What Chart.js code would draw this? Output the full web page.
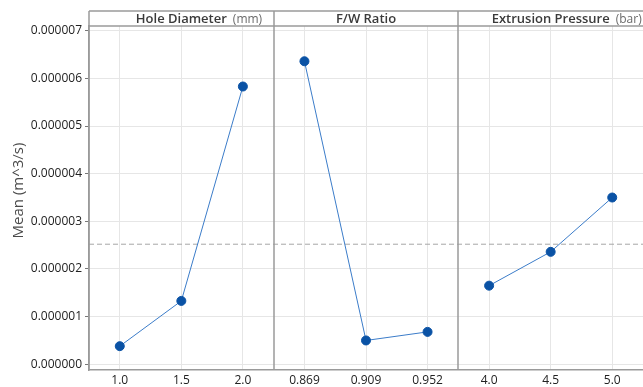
<!DOCTYPE html>
<html>
<head>
<meta charset="utf-8">
<script src="https://cdn.jsdelivr.net/npm/chart.js@4"></script>
<style>
  html, body { margin: 0; padding: 0; background: #fff; }
  #wrap { width: 643px; height: 387px; }
</style>
</head>
<body>
<div id="wrap"><canvas id="mainEffects"></canvas></div>
<script>
// factor levels (tick labels)
const holeDiameterLevels = ['1.0', '1.5', '2.0'];
const fwRatioLevels = ['0.869', '0.909', '0.952'];
const pressureLevels = ['4.0', '4.5', '5.0'];

// means (m^3/s)
const holeDiameterMeans = [0.00000038, 0.00000133, 0.00000583];
const fwRatioMeans = [0.00000636, 0.00000050, 0.00000068];
const pressureMeans = [0.00000165, 0.00000236, 0.00000350];

const grandMean = 0.00000252;

const panelNames = ['Hole Diameter', 'F/W Ratio', 'Extrusion Pressure'];
const panelUnits = ['(mm)', '', '(bar)'];

const yTicks = [0, 0.000001, 0.000002, 0.000003, 0.000004, 0.000005, 0.000006, 0.000007];

const FONT = "'Open Sans', 'Noto Sans', sans-serif";
const panels = [
  { levels: holeDiameterLevels, means: holeDiameterMeans },
  { levels: fwRatioLevels, means: fwRatioMeans },
  { levels: pressureLevels, means: pressureMeans }
];

// x position for level i of panel p (3 slots per panel)
function slot(p, i) { return p * 3 + i + 0.5; }

const tickLabels = {};
panels.forEach(function (panel, p) {
  panel.levels.forEach(function (lvl, i) { tickLabels[slot(p, i)] = lvl; });
});

const datasets = panels.map(function (panel, p) {
  return {
    data: panel.means.map(function (v, i) { return { x: slot(p, i), y: v }; }),
    borderColor: '#3b7cc9',
    borderWidth: 1,
    pointRadius: 4.5,
    pointBackgroundColor: '#0a52a5',
    pointBorderColor: '#0a52a5',
    tension: 0
  };
});

datasets.push({
  data: [{ x: 0, y: grandMean }, { x: 9, y: grandMean }],
  borderColor: '#a6a6a6',
  borderWidth: 1,
  borderDash: [5, 3],
  pointRadius: 0
});

// header strip, panel dividers and y title
const panelFrame = {
  id: 'panelFrame',
  afterDraw: function (chart) {
    const ctx = chart.ctx;
    const area = chart.chartArea;
    const xs = chart.scales.x;
    const top = 11;
    ctx.save();
    ctx.strokeStyle = '#9a9a9a';
    ctx.lineWidth = 1.5;
    ctx.beginPath();
    ctx.moveTo(area.left, top); ctx.lineTo(area.right, top);
    ctx.moveTo(area.left, area.top); ctx.lineTo(area.right, area.top);
    ctx.moveTo(area.left, top); ctx.lineTo(area.left, area.bottom);
    [3, 6].forEach(function (v) {
      const x = Math.round(xs.getPixelForValue(v));
      ctx.moveTo(x, top); ctx.lineTo(x, area.bottom);
    });
    ctx.stroke();

    const midY = (top + area.top) / 2 + 1;
    ctx.textBaseline = 'middle';
    panelNames.forEach(function (name, p) {
      const cx = xs.getPixelForValue(p * 3 + 1.5);
      ctx.font = '600 13px ' + FONT;
      ctx.fillStyle = '#3a3a3a';
      ctx.textAlign = 'center';
      ctx.fillText(name, cx, midY);
      if (panelUnits[p]) {
        const w = ctx.measureText(name).width;
        ctx.font = '12px ' + FONT;
        ctx.fillStyle = '#6a6a6a';
        ctx.textAlign = 'left';
        ctx.fillText(panelUnits[p], cx + w / 2 + 6, midY);
      }
    });

    ctx.translate(19, (top + area.bottom) / 2);
    ctx.rotate(-Math.PI / 2);
    ctx.font = '15px ' + FONT;
    ctx.fillStyle = '#4a4a4a';
    ctx.textAlign = 'center';
    ctx.fillText('Mean (m^3/s)', 0, 0);
    ctx.restore();
  }
};

new Chart(document.getElementById('mainEffects'), {
  type: 'line',
  data: { datasets: datasets },
  options: {
    responsive: true,
    maintainAspectRatio: false,
    animation: false,
    layout: { autoPadding: false, padding: { top: 26, right: 0, left: 0, bottom: 0 } },
    plugins: { legend: { display: false }, tooltip: { enabled: false } },
    scales: {
      x: {
        type: 'linear',
        min: 0,
        max: 9,
        afterBuildTicks: function (scale) {
          scale.ticks = Object.keys(tickLabels).map(function (k) { return { value: Number(k) }; });
        },
        afterFit: function (scale) { scale.height = 17; },
        ticks: {
          autoSkip: false,
          maxRotation: 0,
          padding: 3,
          color: '#222',
          font: { family: FONT, size: 12 },
          callback: function (v) { return tickLabels[v] || ''; }
        },
        grid: { color: '#e6e6e6', drawTicks: false },
        border: { color: '#9a9a9a', width: 1.5 }
      },
      y: {
        min: -0.00000012,
        max: 0.0000071,
        afterBuildTicks: function (scale) {
          scale.ticks = yTicks.map(function (v) { return { value: v }; });
        },
        afterFit: function (scale) { scale.width = 89; },
        ticks: {
          padding: 3,
          color: '#222',
          font: { family: FONT, size: 12 },
          callback: function (v) { return v.toFixed(6); }
        },
        grid: { color: '#e6e6e6', tickLength: 4, tickColor: '#777' },
        border: { color: '#9a9a9a', width: 1.5 }
      }
    }
  },
  plugins: [panelFrame]
});
</script>
</body>
</html>
